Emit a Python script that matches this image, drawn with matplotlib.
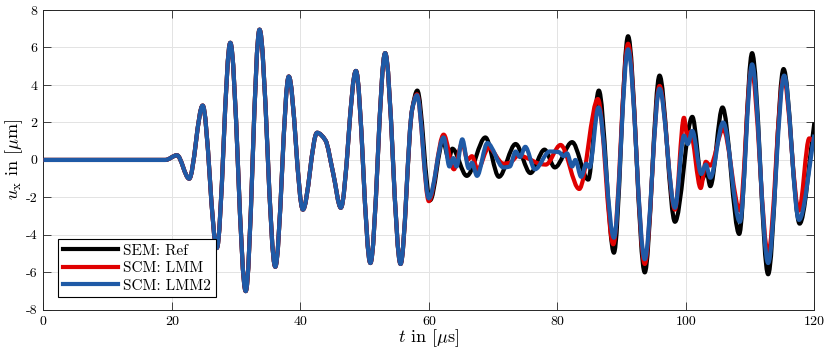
import numpy as np
import matplotlib
matplotlib.use('Agg')
import matplotlib.pyplot as plt
from matplotlib.path import Path
from matplotlib.patches import PathPatch
from matplotlib.lines import Line2D

# displacement traces (t in us, u_x in um)
# all three solutions coincide up to ~57 us
t_common = [0, 19.0, 20.8, 22.7, 24.8, 27.0, 29.1, 31.5, 33.65, 36.1, 38.2, 40.4,
            42.6, 43.9, 45.1, 46.3, 48.65, 50.9, 53.2, 55.6, 57.4]
u_common = [0, 0, 0.25, -1.0, 2.9, -4.7, 6.25, -7.0, 6.95, -5.7, 4.45, -2.65,
            1.45, 1.05, -0.7, -2.55, 4.75, -5.5, 5.7, -5.55, 2.7]

# SEM reference
t_ref = [58.2, 60.2, 62.2, 63.1, 63.65, 65.9, 68.8, 70.9, 73.5, 75.8, 78.0, 79.6,
         82.3, 84.8, 86.45, 88.8, 91.0, 93.6, 95.9, 98.3, 101.0, 102.5, 103.2, 103.8,
         105.7, 108.3, 110.3, 112.8, 115.2, 117.7, 120.0]
u_ref = [3.7, -2.15, 1.0, 0.05, 0.6, -0.85, 1.2, -0.9, 0.85, -0.7, 0.55, -0.4,
         0.95, -1.05, 3.7, -4.95, 6.6, -6.0, 4.5, -3.3, 2.3, -1.05, -0.6, -1.4,
         2.8, -3.95, 5.7, -6.1, 4.85, -3.4, 2.0]

# SCM: LMM
t_lmm = [58.15, 60.0, 62.3, 63.9, 65.2, 66.0, 66.7, 67.6, 69.3, 71.6, 72.6, 74.0,
         75.3, 77.2, 78.2, 80.5, 83.4, 86.3, 88.7, 91.0, 93.6, 95.9, 98.3, 99.7,
         100.25, 100.7, 102.3, 103.1, 103.8, 105.8, 108.4, 110.2, 112.8, 115.2,
         117.6, 119.2, 120.0]
u_lmm = [3.5, -2.2, 1.35, -0.5, 0.9, 0.0, 0.2, -0.5, 0.65, -0.2, -0.15, 0.25,
         0.1, -0.2, -0.25, 0.8, -1.55, 3.25, -4.5, 6.2, -5.55, 3.95, -2.65, 2.25,
         1.2, 1.5, -1.5, -0.1, -0.3, 1.65, -2.7, 4.85, -5.0, 4.4,
         -2.7, 1.15, 0.9]

# SCM: LMM2
t_lmm2 = [58.15, 60.0, 62.3, 63.2, 63.8, 64.3, 65.2, 66.2, 66.7, 67.5, 69.1, 71.6,
          72.6, 73.5, 74.2, 75.0, 76.5, 78.8, 80.2, 81.0, 81.5, 82.3, 82.8, 83.7,
          84.5, 85.0, 86.4, 88.8, 91.0, 93.6, 95.9, 98.3, 99.7, 100.3, 101.0, 102.4,
          103.1, 103.8, 105.8, 108.4, 110.3, 112.8, 115.3, 117.6, 120.0]
u_lmm2 = [3.45, -2.05, 1.2, -0.35, 0.1, -0.35, 1.1, -0.45, -0.15, -0.85, 0.9, -0.4,
          -0.35, 0.45, 0.15, 0.7, -0.5, 0.45, 0.42, 0.2, 0.35, -0.35, 0.0, -0.9,
          -0.2, -0.4, 2.8, -4.15, 5.9, -5.3, 3.8, -2.55, 1.3, 0.85, 1.55, -0.75,
          -0.25, -0.95, 2.0, -3.3, 5.1, -5.5, 4.5, -3.2, 1.35]

labels = ['SEM: Ref', 'SCM: LMM', 'SCM: LMM2']
colors = ['#000000', '#e00000', '#1f5aa6']


def smooth_path(t, u):
    # draw the read points as a monotone cubic (bezier) curve
    t = np.asarray(t, float)
    u = np.asarray(u, float)
    h = np.diff(t)
    d = np.diff(u) / h
    m = np.zeros_like(u)
    for i in range(1, len(u) - 1):
        if d[i - 1] * d[i] > 0:
            w1 = 2 * h[i] + h[i - 1]
            w2 = h[i] + 2 * h[i - 1]
            m[i] = (w1 + w2) / (w1 / d[i - 1] + w2 / d[i])
    m[-1] = d[-1]
    verts = [(t[0], u[0])]
    codes = [Path.MOVETO]
    for i in range(len(h)):
        verts += [(t[i] + h[i] / 3, u[i] + m[i] * h[i] / 3),
                  (t[i + 1] - h[i] / 3, u[i + 1] - m[i + 1] * h[i] / 3),
                  (t[i + 1], u[i + 1])]
        codes += [Path.CURVE4] * 3
    return Path(verts, codes)


plt.rcParams['font.family'] = 'serif'
plt.rcParams['font.serif'] = ['cmr10']
plt.rcParams['mathtext.fontset'] = 'cm'
plt.rcParams['axes.unicode_minus'] = False
plt.rcParams['axes.formatter.use_mathtext'] = False

fig = plt.figure(figsize=(8.3, 3.57), dpi=100)
ax = fig.add_axes([0.0522, 0.132, 0.929, 0.840])

series = [(t_ref, u_ref), (t_lmm, u_lmm), (t_lmm2, u_lmm2)]
lw = 3.0
for (ts, us), c in zip(series, colors):
    path = smooth_path(t_common + ts, u_common + us)
    ax.add_patch(PathPatch(path, facecolor='none', edgecolor=c, lw=lw,
                           joinstyle='round', capstyle='butt', zorder=3))

ax.set_xlim(0, 120)
ax.set_ylim(-8, 8)
ax.set_xticks(np.arange(0, 121, 20))
ax.set_yticks(np.arange(-8, 9, 2))

ax.grid(True, color='#e3e3e3', linewidth=0.7)
ax.set_axisbelow(True)
for s in ax.spines.values():
    s.set_color('#262626')
    s.set_linewidth(0.7)
ax.tick_params(direction='in', length=5.5, width=0.6, color='#262626',
               top=True, right=True, labelsize=10, pad=4)

ax.set_xlabel(r'$t$ in $[\mu\mathrm{s}]$', fontsize=13, labelpad=0)
ax.set_ylabel(r'$u_\mathrm{x}$ in $[\mu\mathrm{m}]$', fontsize=13, labelpad=1)

handles = [Line2D([], [], color=c, lw=lw) for c in colors]
leg = ax.legend(handles, labels, loc='lower left', bbox_to_anchor=(0.0195, 0.042),
                borderaxespad=0, fancybox=False, framealpha=1, edgecolor='black',
                fontsize=11, handlelength=3.6, handletextpad=0.35,
                labelspacing=0.25, borderpad=0.3)
leg.get_frame().set_linewidth(0.8)

fig.savefig('out.png', dpi=100)
